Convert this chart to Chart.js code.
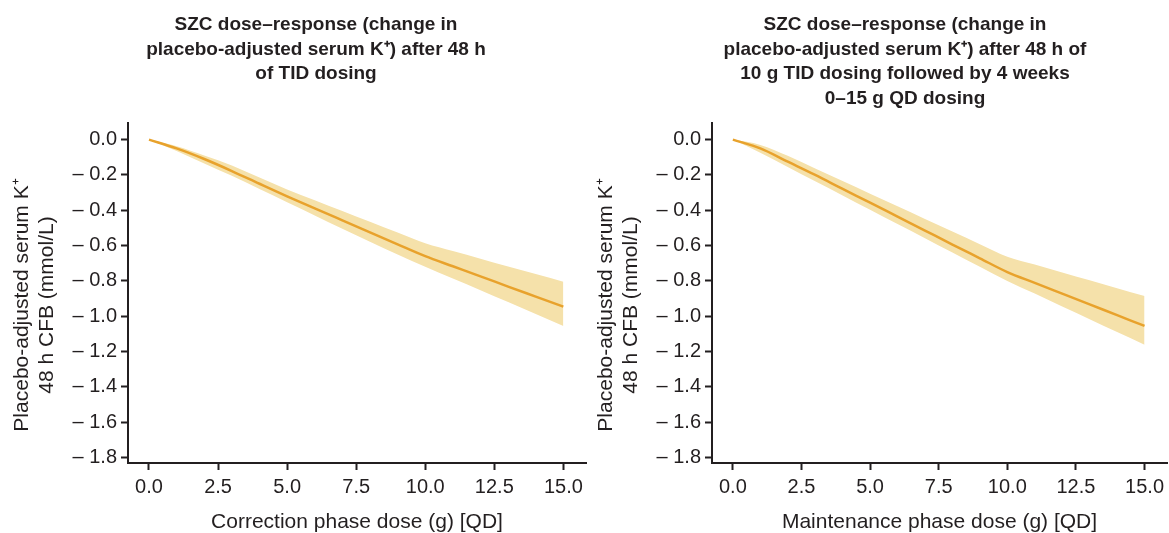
<!DOCTYPE html>
<html>
<head>
<meta charset="utf-8">
<script src="https://cdn.jsdelivr.net/npm/chart.js@4.4.1/dist/chart.umd.min.js"></script>
<style>
  html, body { margin: 0; padding: 0; background: #ffffff; }
  #wrap { position: relative; width: 1169px; height: 533px; overflow: hidden; }
  canvas { position: absolute; top: 0; }
</style>
</head>
<body>
<div id="wrap">
  <canvas id="left" width="590" height="533" style="left:0px"></canvas>
  <canvas id="right" width="585" height="533" style="left:584px"></canvas>
</div>
<script>
// ---------- DATA ----------
const doses = [0, 1, 2, 3, 4, 5, 6, 7, 8, 9, 10, 11, 12, 13, 14, 15];

const correctionMean  = [0, -0.05, -0.11, -0.178, -0.25, -0.321, -0.389, -0.457, -0.525, -0.593, -0.66, -0.717, -0.774, -0.832, -0.889, -0.946];
const correctionUpper = [0, -0.038, -0.09, -0.147, -0.215, -0.282, -0.343, -0.404, -0.465, -0.526, -0.587, -0.631, -0.674, -0.718, -0.761, -0.805];
const correctionLower = [0, -0.065, -0.135, -0.205, -0.28, -0.355, -0.43, -0.505, -0.578, -0.65, -0.72, -0.787, -0.853, -0.92, -0.987, -1.055];

const maintenanceMean  = [0, -0.05, -0.125, -0.2, -0.279, -0.357, -0.436, -0.515, -0.594, -0.672, -0.75, -0.811, -0.872, -0.933, -0.994, -1.055];
const maintenanceUpper = [0, -0.03, -0.092, -0.163, -0.235, -0.306, -0.378, -0.449, -0.52, -0.592, -0.663, -0.707, -0.752, -0.796, -0.841, -0.885];
const maintenanceLower = [0, -0.075, -0.155, -0.236, -0.316, -0.397, -0.478, -0.558, -0.639, -0.72, -0.8, -0.872, -0.945, -1.017, -1.09, -1.162];

const xTicks = [0, 2.5, 5, 7.5, 10, 12.5, 15];
const yTicks = [0, -0.2, -0.4, -0.6, -0.8, -1.0, -1.2, -1.4, -1.6, -1.8];

const leftTitle  = ['SZC dose\u2013response (change in', 'placebo-adjusted serum K\u207A) after 48 h', 'of TID dosing'];
const rightTitle = ['SZC dose\u2013response (change in', 'placebo-adjusted serum K\u207A) after 48 h of', '10 g TID dosing followed by 4 weeks', '0\u201315 g QD dosing'];
const yAxisTitle = ['Placebo-adjusted serum K\u207A', '48 h CFB (mmol/L)'];
const leftXTitle  = 'Correction phase dose (g) [QD]';
const rightXTitle = 'Maintenance phase dose (g) [QD]';

// ---------- STYLE ----------
const FONT = '"Liberation Sans", Arial, Helvetica, sans-serif';
const INK = '#231f20';
const LINE = '#e8a22c';
const BAND = '#f5e1aa';

// Draws the multi-line bold chart title and the rotated two-line y-axis title
const textPlugin = {
  id: 'panelText',
  afterDraw(chart, args, opts) {
    const ctx = chart.ctx;
    ctx.save();
    ctx.fillStyle = INK;
    ctx.textAlign = 'center';
    ctx.textBaseline = 'middle';
    ctx.font = 'bold ' + opts.titleSize + 'px ' + FONT;
    opts.title.forEach((l, i) => ctx.fillText(l, opts.titleX, opts.titleY + i * opts.titleLineHeight));
    ctx.font = opts.yTitleSize + 'px ' + FONT;
    opts.yTitle.forEach((l, i) => {
      ctx.save();
      ctx.translate(opts.yTitleX + i * opts.yTitleLineHeight, opts.yTitleY);
      ctx.rotate(-Math.PI / 2);
      ctx.fillText(l, 0, 0);
      ctx.restore();
    });
    ctx.restore();
  }
};

function pts(arr) { return doses.map((d, i) => ({ x: d, y: arr[i] })); }

function makeChart(id, mean, upper, lower, titleLines, titleX, xTitle, padRight) {
  return new Chart(document.getElementById(id), {
    type: 'line',
    data: {
      datasets: [
        { label: 'mean', data: pts(mean), borderWidth: 2.5, pointRadius: 0, fill: false, borderColor: LINE, cubicInterpolationMode: 'monotone' },
        { label: 'upper', data: pts(upper), borderWidth: 0, pointRadius: 0, fill: false, cubicInterpolationMode: 'monotone', borderColor: 'rgba(0,0,0,0)' },
        { label: 'lower', data: pts(lower), borderWidth: 0, pointRadius: 0, fill: '-1', backgroundColor: BAND, cubicInterpolationMode: 'monotone', borderColor: 'rgba(0,0,0,0)' }
      ]
    },
    options: {
      responsive: false,
      animation: false,
      layout: { padding: { top: 123, right: padRight, left: 0, bottom: 0 } },
      plugins: {
        legend: { display: false },
        tooltip: { enabled: false },
        panelText: {
          title: titleLines, titleX: titleX, titleY: 25, titleLineHeight: 24.5, titleSize: 19,
          yTitle: yAxisTitle, yTitleX: 22, yTitleY: 305, yTitleLineHeight: 25, yTitleSize: 21
        }
      },
      scales: {
        x: {
          type: 'linear', min: -0.76, max: 15.82,
          afterBuildTicks: s => { s.ticks = xTicks.map(v => ({ value: v })); },
          afterFit: s => { s.height = 70; },
          ticks: { color: INK, font: { size: 20, family: FONT }, padding: 5, maxRotation: 0, autoSkip: false,
                   callback: v => Number(v).toFixed(1) },
          grid: { drawOnChartArea: false, drawTicks: true, tickLength: 7, tickWidth: 2, tickColor: INK, color: INK },
          border: { display: true, color: INK, width: 2 },
          title: { display: true, text: xTitle, color: INK, font: { size: 21, family: FONT, lineHeight: 1.0 }, padding: { top: 0, bottom: 0 } }
        },
        y: {
          type: 'linear', min: -1.831, max: 0.094,
          afterBuildTicks: s => { s.ticks = yTicks.map(v => ({ value: v })); },
          afterFit: s => { s.width = 128; },
          ticks: { color: INK, font: { size: 20, family: FONT }, padding: 4,
                   callback: v => (Math.abs(v) < 1e-9 ? '0.0' : '\u2013 ' + Math.abs(v).toFixed(1)) },
          grid: { drawOnChartArea: false, drawTicks: true, tickLength: 7, tickWidth: 2, tickColor: INK, color: INK },
          border: { display: true, color: INK, width: 2 },
          title: { display: false }
        }
      }
    },
    plugins: [textPlugin]
  });
}

makeChart('left', correctionMean, correctionUpper, correctionLower, leftTitle, 316, leftXTitle, 4);
makeChart('right', maintenanceMean, maintenanceUpper, maintenanceLower, rightTitle, 321, rightXTitle, 0);
</script>
</body>
</html>
